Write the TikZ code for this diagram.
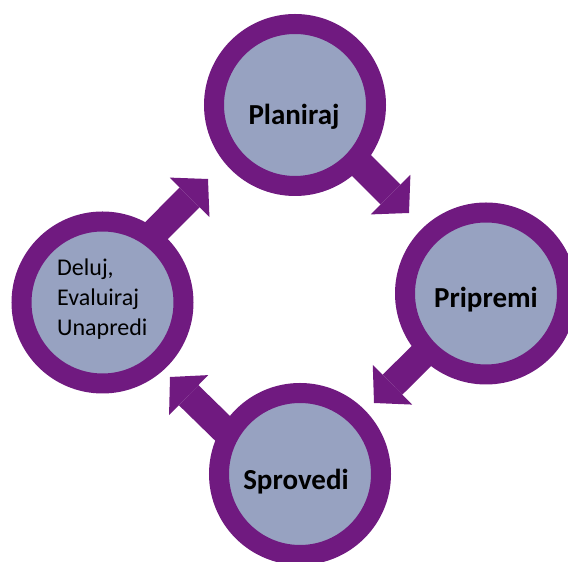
\documentclass[tikz,border=0pt]{standalone}
\usepackage{fontspec}
\setmainfont{Carlito}
\usetikzlibrary{arrows.meta}
\definecolor{ringpurple}{RGB}{112,26,128}
\definecolor{discblue}{RGB}{151,162,193}

\begin{document}
\begin{tikzpicture}[x=1pt,y=1pt,line join=miter,
    ring/.style={circle,draw=ringpurple,fill=discblue,line width=20pt,minimum size=162pt,inner sep=0pt,outer sep=0pt},
    flow/.style={draw=ringpurple,line width=28pt,-{Triangle[width=56pt,length=26pt,line width=0pt]}},
    boldlabel/.style={font=\bfseries\fontsize{29}{35}\selectfont,anchor=base,inner sep=0pt}]
    \useasboundingbox (0,0) rectangle (568,562);
    \clip (0,0) rectangle (568,562);
    % the four rings
    \node[ring] (planiraj) at (295,457) {};
    \node[ring] (pripremi) at (486,268.5) {};
    \node[ring] (sprovedi) at (300,88) {};
    \node[ring] (deluj) at (102.5,259.5) {};
    % arrow tips
    \coordinate (tipA) at (409,349);
    \coordinate (tipB) at (374,159);
    \coordinate (tipC) at (170,185);
    \coordinate (tipD) at (208,383);
    \draw[flow] (planiraj.-42) -- (tipA);
    \draw[flow] (pripremi.-136) -- (tipB);
    \draw[flow] (sprovedi.151) -- (tipC);
    \draw[flow] (deluj.54) -- (tipD);
    % texts
    \node[boldlabel] (txtplan) at (294,437) {Planiraj};
    \node[boldlabel] (txtprip) at (486,254) {Pripremi};
    \node[boldlabel] (txtsprov) at (296,72) {Sprovedi};
    \node[font=\fontsize{24}{30}\selectfont,align=left,anchor=west,inner sep=0pt] (txtdeluj) at (57,262.5) {Deluj,\\Evaluiraj\\Unapredi};
\end{tikzpicture}
\end{document}
